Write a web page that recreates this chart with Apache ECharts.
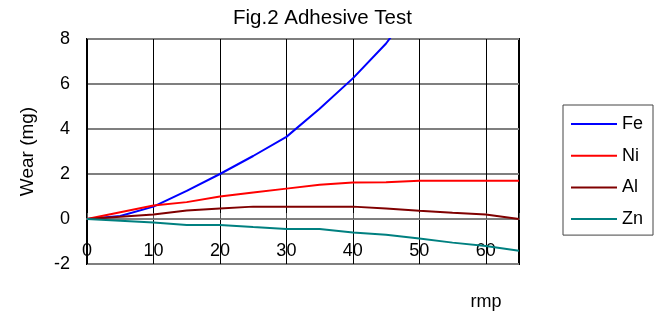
<!DOCTYPE html>
<html>
<head>
<meta charset="utf-8">
<title>Fig.2 Adhesive Test</title>
<script src="https://cdn.jsdelivr.net/npm/echarts@6/dist/echarts.min.js"></script>
<style>
  html, body { margin: 0; padding: 0; background: #fff; }
  #chart { width: 656px; height: 313px; }
</style>
</head>
<body>
<div id="chart"></div>
<script>
// rpm steps
var rmp = [0, 5, 10, 15, 20, 25, 30, 35, 40, 45, 50, 55, 60, 65];
// wear (mg) per metal
var fe = [0, 0.13, 0.55, 1.25, 2.0, 2.8, 3.65, 4.9, 6.25, 7.8, 9.8];
var ni = [0, 0.3, 0.6, 0.75, 1.0, 1.18, 1.35, 1.52, 1.62, 1.63, 1.7, 1.7, 1.7, 1.7];
var al = [0, 0.1, 0.2, 0.38, 0.47, 0.55, 0.55, 0.55, 0.55, 0.47, 0.37, 0.28, 0.2, 0];
var zn = [0, -0.08, -0.16, -0.27, -0.27, -0.36, -0.44, -0.44, -0.6, -0.7, -0.87, -1.05, -1.2, -1.41];

var names = ['Fe', 'Ni', 'Al', 'Zn'];
var colors = ['#0000ff', '#ff0000', '#800000', '#008080'];
var values = [fe, ni, al, zn];

var font = 'Liberation Sans, Arial, sans-serif';

function pairs(ys) {
  var out = [];
  for (var i = 0; i < ys.length; i++) {
    out.push([rmp[i], ys[i]]);
  }
  return out;
}

var series = [];
for (var i = 0; i < names.length; i++) {
  series.push({
    name: names[i],
    type: 'line',
    xAxisIndex: 0,
    data: pairs(values[i]),
    symbol: 'none',
    clip: true,
    lineStyle: { color: colors[i], width: 2 },
    itemStyle: { color: colors[i] }
  });
}

var chart = echarts.init(document.getElementById('chart'));
chart.setOption({
  animation: false,
  textStyle: { fontFamily: font, color: '#000' },
  title: {
    text: 'Fig.2 Adhesive Test',
    left: 233,
    top: 8,
    padding: 0,
    textStyle: { fontFamily: font, fontSize: 20.5, fontWeight: 'normal', color: '#000' }
  },
  legend: {
    orient: 'vertical',
    left: 563,
    top: 105,
    padding: [10, 10, 7, 8],
    icon: 'rect',
    itemWidth: 46,
    itemHeight: 2,
    itemGap: 13.7,
    borderColor: '#444',
    borderWidth: 1,
    data: names,
    textStyle: { fontFamily: font, fontSize: 18, color: '#000', lineHeight: 18 }
  },
  grid: {
    left: 87,
    right: 137,
    top: 39,
    bottom: 49,
    outerBoundsMode: 'none',
    show: true,
    borderColor: '#000',
    borderWidth: 2,
    backgroundColor: '#fff'
  },
  xAxis: [
    {
      type: 'value',
      min: 0,
      max: 65,
      interval: 10,
      name: 'rmp',
      nameLocation: 'middle',
      nameGap: 29,
      nameTextStyle: { fontFamily: font, fontSize: 18, color: '#000', padding: [0, 0, 0, 366] },
      axisLine: { show: false, onZero: false },
      axisTick: { show: false },
      axisLabel: {
        inside: true,
        margin: 4,
        showMaxLabel: false,
        fontFamily: font,
        fontSize: 18,
        color: '#000'
      },
      splitLine: { show: true, lineStyle: { color: '#000', width: 1 } }
    },
    {
      type: 'value',
      min: 0,
      max: 65,
      interval: 10,
      position: 'bottom',
      axisLine: { show: true, onZero: true, lineStyle: { color: '#7f7f7f', width: 2 } },
      axisTick: { show: true, inside: true, length: 6, lineStyle: { color: '#555', width: 1 } },
      axisLabel: { show: false },
      splitLine: { show: false }
    }
  ],
  yAxis: {
    type: 'value',
    min: -2,
    max: 8,
    interval: 2,
    name: 'Wear (mg)',
    nameLocation: 'middle',
    nameGap: 50,
    nameTextStyle: { fontFamily: font, fontSize: 19, color: '#000' },
    axisLine: { show: false },
    axisTick: { show: false },
    axisLabel: { margin: 17, fontFamily: font, fontSize: 18, color: '#000' },
    splitLine: { show: true, lineStyle: { color: '#7f7f7f', width: 2 } }
  },
  series: series
});
</script>
</body>
</html>
